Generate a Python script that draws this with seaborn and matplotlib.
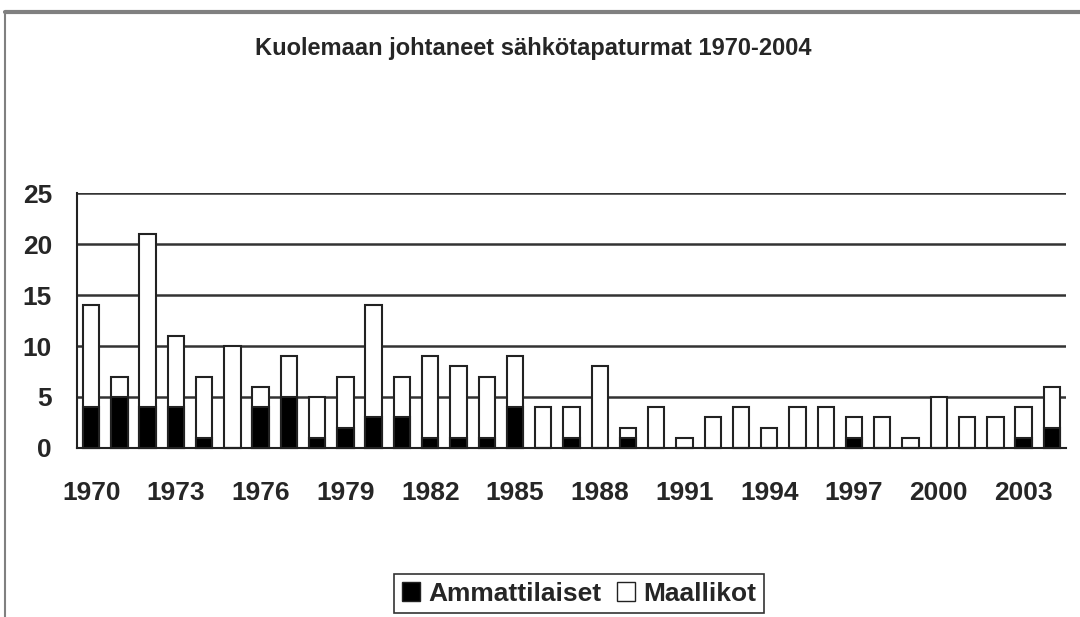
import matplotlib
matplotlib.use("Agg")
import matplotlib.pyplot as plt
import numpy as np
import pandas as pd
import seaborn as sns
from matplotlib.lines import Line2D
from matplotlib.patches import Patch

years = list(range(1970, 2005))
ammattilaiset = [4, 5, 4, 4, 1, 0, 4, 5, 1, 2, 3, 3, 1, 1, 1, 4, 0, 1, 0, 1,
                 0, 0, 0, 0, 0, 0, 0, 1, 0, 0, 0, 0, 0, 1, 2]
yhteensa = [14, 7, 21, 11, 7, 10, 6, 9, 5, 7, 14, 7, 9, 8, 7, 9, 4, 4, 8, 2,
            4, 1, 3, 4, 2, 4, 4, 3, 3, 1, 5, 3, 3, 4, 6]
maallikot = [t - a for t, a in zip(yhteensa, ammattilaiset)]
y_ticks = [0, 5, 10, 15, 20, 25]

df = pd.DataFrame({"vuosi": [str(y) for y in years],
                   "ammattilaiset": ammattilaiset,
                   "yhteensa": yhteensa,
                   "maallikot": maallikot})

sns.set_theme(style="white")
plt.rcParams["font.family"] = ["Liberation Sans", "DejaVu Sans"]

fig = plt.figure(figsize=(10.8, 6.17), dpi=100)
ax = fig.add_axes([0.0713, 0.274, 0.9157, 0.413])

edge = "#222222"
sns.barplot(data=df, x="vuosi", y="yhteensa", color="white", saturation=1,
            edgecolor=edge, linewidth=1.5, width=0.58, ax=ax, zorder=3)
sns.barplot(data=df, x="vuosi", y="ammattilaiset", color="black", saturation=1,
            edgecolor=edge, linewidth=1.5, width=0.58, ax=ax, zorder=4)
for p in ax.patches:
    p.set_clip_on(False)

ax.set_xlim(-0.5, len(years) - 0.5)
ax.set_ylim(0, 25)
ax.set_yticks(y_ticks)
ax.set_yticklabels([str(v) for v in y_ticks], fontsize=19, fontweight="bold")
pos = np.arange(0, len(years), 3)
ax.set_xticks(pos)
ax.set_xticklabels([df["vuosi"][i] for i in pos], fontsize=19, fontweight="bold")
ax.set_xticks(np.arange(-0.5, len(years), 1), minor=True)
ax.tick_params(axis="x", which="major", length=0, pad=24)
ax.tick_params(axis="x", which="minor", length=6, width=1.5, color=edge, direction="out")
ax.tick_params(axis="y", length=7, width=1.5, color=edge, direction="out", pad=11)
ax.set_xlabel("")
ax.set_ylabel("")

ax.yaxis.grid(True, color="#333333", linewidth=1.8, zorder=0)
ax.set_axisbelow(True)
for s in ["top", "right"]:
    ax.spines[s].set_visible(False)
for s in ["left", "bottom"]:
    ax.spines[s].set_color(edge)
    ax.spines[s].set_linewidth(1.5)
    ax.spines[s].set_zorder(5)

fig.text(0.494, 0.922, "Kuolemaan johtaneet sähkötapaturmat 1970-2004",
         ha="center", va="center", fontsize=17, fontweight="bold",
         family=["Liberation Sans Narrow", "Liberation Sans"])

handles = [Patch(facecolor="black", edgecolor=edge, label="Ammattilaiset"),
           Patch(facecolor="white", edgecolor=edge, label="Maallikot")]
leg = fig.legend(handles=handles, loc="center", bbox_to_anchor=(0.536, 0.038),
                 ncol=2, frameon=True, fancybox=False, handlelength=0.7,
                 handleheight=0.7, handletextpad=0.3, columnspacing=0.6,
                 borderpad=0.3, prop={"size": 19, "weight": "bold"})
leg.get_frame().set_edgecolor("black")
leg.get_frame().set_linewidth(1.2)

# chart area border, partly cropped in the original
fig.add_artist(Line2D([0.005, 1.0], [0.981, 0.981], color="#808080", linewidth=3))
fig.add_artist(Line2D([0.005, 0.005], [0.0, 0.981], color="#808080", linewidth=1.5))

fig.savefig("out.png", dpi=100)
